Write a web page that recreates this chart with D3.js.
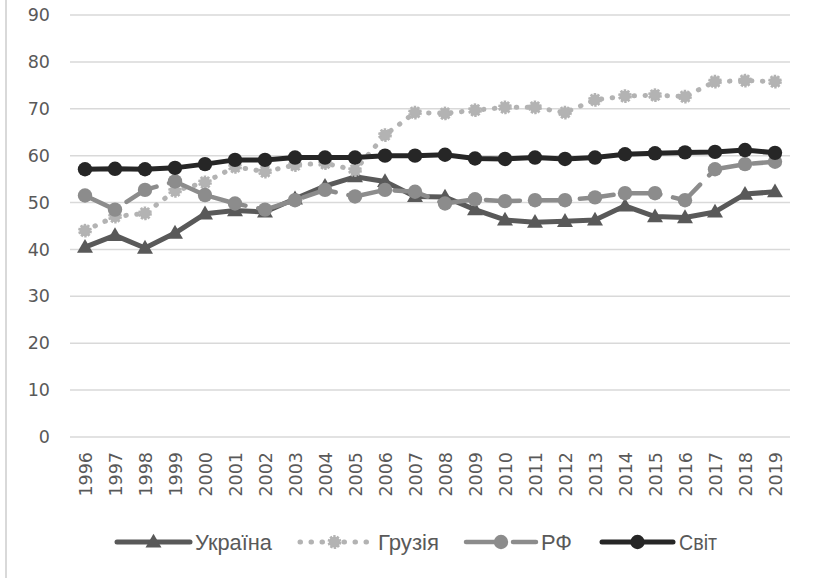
<!DOCTYPE html>
<html>
<head>
<meta charset="utf-8">
<script src="https://cdn.jsdelivr.net/npm/d3@7/dist/d3.min.js"></script>
<style>
  html, body { margin: 0; padding: 0; background: #ffffff; }
  svg { display: block; }
</style>
</head>
<body>
<svg id="chart" width="814" height="578"></svg>
<script>
const years = ["1996","1997","1998","1999","2000","2001","2002","2003","2004","2005","2006","2007","2008","2009","2010","2011","2012","2013","2014","2015","2016","2017","2018","2019"];
const ukraine = [40.5, 43.0, 40.3, 43.5, 47.6, 48.3, 48.0, 50.8, 53.5, 55.5, 54.5, 51.3, 51.2, 48.5, 46.3, 45.8, 46.0, 46.3, 49.3, 47.0, 46.8, 48.0, 51.8, 52.3];
const georgia = [44.0, 47.0, 47.7, 52.5, 54.3, 57.6, 56.6, 58.0, 58.4, 56.9, 64.4, 69.2, 69.0, 69.7, 70.3, 70.3, 69.2, 71.9, 72.7, 72.9, 72.6, 75.8, 76.0, 75.8];
const russia = [51.5, 48.5, 52.7, 54.5, 51.6, 49.8, 48.5, 50.5, 52.7, 51.3, 52.7, 52.3, 49.8, 50.7, 50.3, 50.5, 50.5, 51.1, 52.0, 52.0, 50.5, 57.1, 58.2, 58.7];
const world = [57.1, 57.2, 57.1, 57.4, 58.2, 59.1, 59.1, 59.6, 59.6, 59.6, 60.0, 60.0, 60.2, 59.4, 59.3, 59.6, 59.3, 59.6, 60.3, 60.5, 60.7, 60.8, 61.2, 60.6];
const seriesNames = ["Україна", "Грузія", "РФ", "Світ"];
const yTicks = [0, 10, 20, 30, 40, 50, 60, 70, 80, 90];

const svg = d3.select("#chart");
const plotLeft = 70, plotRight = 790, plotTop = 15, plotBottom = 437;

const x = d3.scalePoint().domain(years).range([plotLeft, plotRight]).padding(0.5);
const y = d3.scaleLinear().domain([0, 90]).range([plotBottom, plotTop]);

// outer left border of chart area
svg.append("line").attr("x1", 6).attr("x2", 6).attr("y1", 0).attr("y2", 578)
  .attr("stroke", "#d9d9d9").attr("stroke-width", 2);

// gridlines
svg.append("g").selectAll("line").data(yTicks).join("line")
  .attr("x1", plotLeft).attr("x2", plotRight)
  .attr("y1", d => y(d)).attr("y2", d => y(d))
  .attr("stroke", "#d9d9d9").attr("stroke-width", 1.5);

// y axis
const yAxis = svg.append("g").attr("transform", `translate(${plotLeft},0)`)
  .call(d3.axisLeft(y).tickValues(yTicks).tickSize(0).tickPadding(20));
yAxis.select(".domain").remove();
yAxis.selectAll("text").attr("fill", "#595959")
  .style("font-family", "'DejaVu Sans', sans-serif").style("font-size", "17.5px");

// x axis
const xAxis = svg.append("g").attr("transform", `translate(0,${plotBottom})`)
  .call(d3.axisBottom(x).tickSize(0).tickPadding(0));
xAxis.select(".domain").remove();
xAxis.selectAll("text")
  .attr("fill", "#595959")
  .style("font-family", "'DejaVu Sans', sans-serif").style("font-size", "17.5px")
  .attr("text-anchor", "end")
  .attr("transform", "rotate(-90)")
  .attr("x", -15).attr("y", 0).attr("dy", "0.36em");

const lineGen = d3.line().x((d, i) => x(years[i])).y(d => y(d));

const cfg = [
  { name: seriesNames[0], data: ukraine, color: "#595959", width: 5, dash: null, marker: "triangle" },
  { name: seriesNames[1], data: georgia, color: "#b3b3b3", width: 5, dash: "0.5,10.5", marker: "gear" },
  { name: seriesNames[2], data: russia, color: "#8c8c8c", width: 4.5, dash: "34,13", marker: "circle" },
  { name: seriesNames[3], data: world, color: "#262626", width: 5, dash: null, marker: "circle" }
];

function drawMarker(g, type, color, cx, cy) {
  if (type === "triangle") {
    g.append("path").attr("d", d3.symbol().type(d3.symbolTriangle).size(110)())
      .attr("transform", `translate(${cx},${cy + 1})`).attr("fill", color);
  } else if (type === "gear") {
    g.append("circle").attr("cx", cx).attr("cy", cy).attr("r", 5.6).attr("fill", color)
      .attr("stroke", color).attr("stroke-width", 2.6).attr("stroke-dasharray", "2.3,1.2");
  } else {
    g.append("circle").attr("cx", cx).attr("cy", cy).attr("r", 7.2).attr("fill", color);
  }
}

cfg.forEach(s => {
  const g = svg.append("g");
  g.append("path").datum(s.data).attr("d", lineGen)
    .attr("fill", "none").attr("stroke", s.color).attr("stroke-width", s.width)
    .attr("stroke-linejoin", "round").attr("stroke-linecap", "round")
    .attr("stroke-dasharray", s.dash);
  s.data.forEach((v, i) => drawMarker(g, s.marker, s.color, x(years[i]), y(v)));
});

// legend
const legY = 542;
const legItems = [
  { x0: 117, x1: 190, tx: 195, tw: 77 },
  { x0: 300, x1: 369, tx: 378, tw: 61 },
  { x0: 466, x1: 536, tx: 541, tw: 31 },
  { x0: 602, x1: 673, tx: 679, tw: 38 }
];
cfg.forEach((s, i) => {
  const L = legItems[i];
  const g = svg.append("g");
  g.append("line").attr("x1", L.x0).attr("x2", L.x1).attr("y1", legY).attr("y2", legY)
    .attr("stroke", s.color).attr("stroke-width", s.width)
    .attr("stroke-linecap", "round").attr("stroke-dasharray", s.dash);
  drawMarker(g, s.marker, s.color, (L.x0 + L.x1) / 2, legY);
  g.append("text").attr("x", L.tx).attr("y", legY).attr("dy", "0.35em")
    .attr("fill", "#595959")
    .style("font-family", "'Liberation Sans Narrow', 'Liberation Sans', sans-serif")
    .style("font-size", "22px")
    .attr("textLength", L.tw).attr("lengthAdjust", "spacingAndGlyphs")
    .text(s.name);
});
</script>
</body>
</html>
